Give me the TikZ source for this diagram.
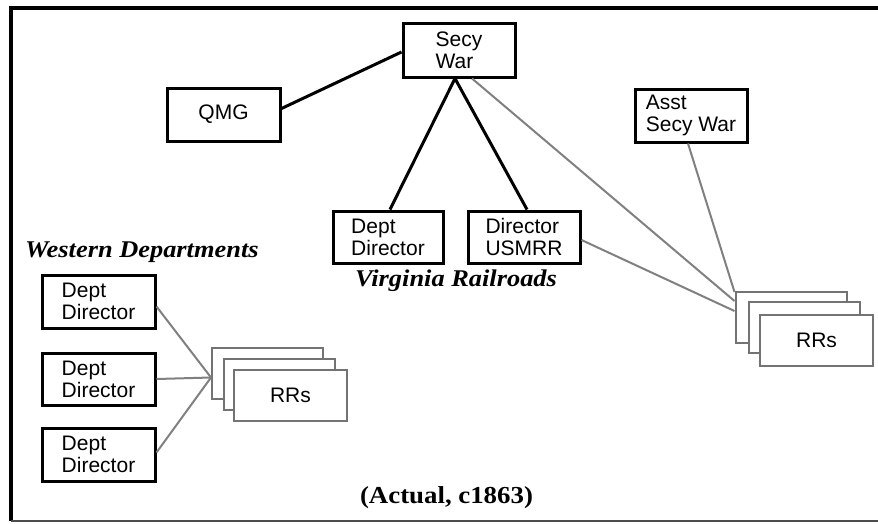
\documentclass[tikz,border=0pt]{standalone}
\usepackage{fontspec}
\setmainfont{Liberation Serif}
\newfontfamily\boxfont{Liberation Sans}
\newfontfamily\lblfont[FakeStretch=1.1]{Liberation Serif}
\usetikzlibrary{calc}
\begin{document}
\begin{tikzpicture}[x=1pt,y=-1pt,
  bx/.style={draw=black, line width=3pt, fill=white, inner sep=0pt, align=left,
    font=\boxfont\fontsize{21}{22}\selectfont},
  rrbox/.style={draw=black!55, line width=2pt, fill=white, inner sep=0pt,
    minimum width=111pt, minimum height=51pt, font=\boxfont\fontsize{21}{22}\selectfont},
  heavy/.style={line width=3pt, black},
  light/.style={line width=2pt, black!50},
  lbl/.style={inner sep=0pt, font=\lblfont\fontsize{24}{28}\selectfont\bfseries\itshape},
  captxt/.style={inner sep=0pt, font=\lblfont\fontsize{24.4}{28}\selectfont\bfseries}]
\useasboundingbox (0,0) rectangle (878,523);
% frame
\draw[line width=4pt] (878,8) -- (11,8) -- (11,521);
\draw[line width=1.5pt, black!70] (11,521) -- (878,521);

% boxes
\node[bx, minimum width=112pt, minimum height=54pt] (secy) at (459,50) {Secy\\War};
\node[bx, minimum width=113pt, minimum height=53pt] (qmg) at (223.5,114.5) {QMG};
\node[bx, minimum width=112pt, minimum height=53pt] (asst) at (691,115.5) {Asst\\Secy War};
\node[bx, minimum width=110pt, minimum height=52pt] (vdd) at (388,237) {Dept\\Director};
\node[bx, minimum width=112pt, minimum height=52pt] (usmrr) at (524,237) {Director\\USMRR};
\node[bx, minimum width=113pt, minimum height=53pt] (wd1) at (98.5,301.5) {Dept\\Director};
\node[bx, minimum width=113pt, minimum height=52pt] (wd2) at (98.5,379) {Dept\\Director};
\node[bx, minimum width=113pt, minimum height=53pt] (wd3) at (98.5,454.5) {Dept\\Director};

% western RRs stack
\node[rrbox] (wr1) at (267.5,373.5) {};
\node[rrbox] (wr2) at (279,384) {};
\node[rrbox, minimum width=113pt] (wr3) at (290.5,395) {RRs};
% right RRs stack
\node[rrbox] (rr1) at (791,317.5) {};
\node[rrbox] (rr2) at (804,327.5) {};
\node[rrbox, minimum width=113pt] (rr3) at (816.5,340) {RRs};

% labels
\node[lbl, anchor=base west] (west) at (25,257) {Western Departments};
\node[lbl, anchor=base west] (virg) at (355,286) {Virginia Railroads};
\node[captxt, anchor=base] (actual) at (446.5,503) {(Actual, c1863)};

% convergence points
\coordinate (wc) at ($(wr1.west)+(0,4)$);
\coordinate (rc1) at ($(rr1.north west)+(0,1)$);
\coordinate (rc2) at ($(rr1.north west)+(0,10)$);
\coordinate (rc3) at ($(rr1.north west)+(0,20)$);

% heavy connectors
\draw[heavy] ($(qmg.east)+(0,-6)$) -- ($(secy.west)+(0,2)$);
\coordinate (sb) at ($(secy.south)+(-4,0)$);
\draw[heavy] (sb) -- ($(vdd.north)+(2,0)$);
\draw[heavy] (sb) -- ($(usmrr.north)+(3,0)$);

% light connectors
\draw[light] ($(secy.south)+(13,0)$) -- (rc2);
\draw[light] ($(asst.south)+(-3,0)$) -- (rc1);
\draw[light] ($(usmrr.east)+(0,3)$) -- (rc3);
\draw[light] ($(wd1.east)+(0,5)$) -- (wc);
\draw[light] (wd2.east) -- (wc);
\draw[light] ($(wd3.east)+(0,-2)$) -- (wc);
\end{tikzpicture}
\end{document}
